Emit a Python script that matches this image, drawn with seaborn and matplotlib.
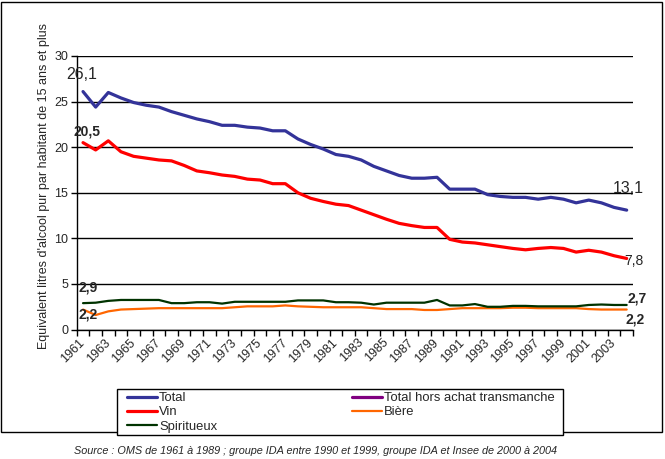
import numpy as np
import pandas as pd
import matplotlib
matplotlib.use("Agg")
import matplotlib.pyplot as plt
from matplotlib.patches import Rectangle
from matplotlib.lines import Line2D
import seaborn as sns

# consumption, litres of pure alcohol per inhabitant aged 15+
years = list(range(1961, 2005))
total = [26.1, 24.4, 26.0, 25.4, 24.9, 24.6, 24.4, 23.9, 23.5, 23.1, 22.8, 22.4,
         22.4, 22.2, 22.1, 21.8, 21.8, 20.9, 20.3, 19.8, 19.2, 19.0, 18.6, 17.9,
         17.4, 16.9, 16.6, 16.6, 16.7, 15.4, 15.4, 15.4, 14.8, 14.6, 14.5, 14.5,
         14.3, 14.5, 14.3, 13.9, 14.2, 13.9, 13.4, 13.1]
vin = [20.5, 19.7, 20.7, 19.5, 19.0, 18.8, 18.6, 18.5, 18.0, 17.4, 17.2, 16.95,
       16.8, 16.5, 16.4, 16.0, 16.0, 15.0, 14.4, 14.05, 13.75, 13.6, 13.1, 12.6,
       12.1, 11.65, 11.4, 11.2, 11.2, 9.9, 9.6, 9.5, 9.3, 9.1, 8.9, 8.75,
       8.9, 9.0, 8.9, 8.5, 8.7, 8.5, 8.1, 7.8]
biere = [2.2, 1.6, 2.0, 2.2, 2.25, 2.3, 2.35, 2.35, 2.35, 2.35, 2.35, 2.35,
         2.45, 2.55, 2.55, 2.55, 2.65, 2.55, 2.5, 2.45, 2.45, 2.45, 2.45, 2.35,
         2.25, 2.25, 2.25, 2.15, 2.15, 2.25, 2.35, 2.35, 2.35, 2.35, 2.4, 2.4,
         2.35, 2.35, 2.35, 2.35, 2.25, 2.2, 2.2, 2.2]
spiritueux = [2.9, 2.95, 3.15, 3.25, 3.25, 3.25, 3.25, 2.9, 2.9, 3.0, 3.0, 2.85,
              3.05, 3.05, 3.05, 3.05, 3.05, 3.2, 3.2, 3.2, 3.0, 3.0, 2.95, 2.75,
              2.95, 2.95, 2.95, 2.95, 3.25, 2.65, 2.65, 2.8, 2.5, 2.5, 2.6, 2.6,
              2.55, 2.55, 2.55, 2.55, 2.7, 2.75, 2.7, 2.7]

series_names = ["Total", "Vin", "Bière", "Spiritueux"]
series_colors = {"Total": "#333399", "Vin": "#FF0000", "Bière": "#FF6600",
                 "Spiritueux": "#003300"}
series_lw = {"Total": 2.3, "Vin": 2.3, "Bière": 1.6, "Spiritueux": 1.6}
hors_label = "Total hors achat transmanche"
hors_color = "#800080"

y_label = "Equivalent litres d'alcool pur par habitant de 15 ans et plus"
source = ("Source : OMS de 1961 à 1989 ; groupe IDA entre 1990 et 1999, "
          "groupe IDA et Insee de 2000 à 2004")

sns.set_style("white")
plt.rcParams["font.family"] = ["Liberation Sans", "DejaVu Sans"]

idx = np.arange(len(years))
df = pd.DataFrame({"x": idx, "Total": total, "Vin": vin, "Bière": biere,
                   "Spiritueux": spiritueux})

fig = plt.figure(figsize=(6.65, 4.59), dpi=100)
ax = fig.add_axes([76.7 / 665, 1 - 329.6 / 459, (633 - 76.7) / 665, (329.6 - 56) / 459])

for name in series_names:
    sns.lineplot(data=df, x="x", y=name, ax=ax, color=series_colors[name],
                 lw=series_lw[name], legend=False)

ax.set_xlim(-0.5, len(years) - 0.5)
ax.set_ylim(0, 30)
ax.set_yticks(range(0, 31, 5))
ax.yaxis.grid(True, color="black", lw=1)
ax.set_axisbelow(True)
for s in ["top", "right"]:
    ax.spines[s].set_visible(False)
for s in ["left", "bottom"]:
    ax.spines[s].set_color("black")
    ax.spines[s].set_linewidth(1)

# tick marks between categories, labels every other year
ax.set_xticks(np.arange(-0.5, len(years), 1))
ax.set_xticklabels([])
ax.set_xticks(idx[::2], minor=True)
ax.set_xticklabels([str(y) for y in years[::2]], minor=True, rotation=45,
                   ha="right", va="center", rotation_mode="anchor", fontsize=9)
ax.tick_params(axis="x", which="major", direction="out", length=4, width=1,
               color="black", bottom=True)
ax.tick_params(axis="x", which="minor", length=0, pad=8)
ax.tick_params(axis="y", direction="out", length=4, width=1, color="black",
               left=True, labelsize=9, pad=2)
ax.set_xlabel("")
ax.set_ylabel(y_label, fontsize=9)
ax.yaxis.set_label_coords(-0.048, 0.525)

# data labels at both ends
def lab(series, i, dx, dy, size, weight):
    v = series[i]
    ax.annotate(f"{v:.1f}".replace(".", ","), (idx[i], v), xytext=(dx, dy),
                textcoords="offset points", ha="center", va="center",
                fontsize=size, fontweight=weight)

lab(total, 0, -1.2, 12.5, 11.5, "normal")
lab(vin, 0, 2.7, 7.9, 10, "bold")
lab(spiritueux, 0, 3.6, 11, 10, "bold")
lab(biere, 0, 3.4, -3.8, 10, "bold")
lab(total, -1, 0.9, 15.4, 11.5, "normal")
lab(vin, -1, 5, -2, 10, "normal")
lab(spiritueux, -1, 7.3, 5, 10, "bold")
lab(biere, -1, 5.8, -7, 10, "bold")

# chart border
fig.patches.append(Rectangle((1 / 665, 1 - 432 / 459), 661 / 665, 430 / 459,
                             transform=fig.transFigure, fill=False,
                             edgecolor="black", lw=1))

# legend (frame drawn separately)
handles = [Line2D([], [], color=series_colors["Total"], lw=2.3),
           Line2D([], [], color=series_colors["Vin"], lw=2.3),
           Line2D([], [], color=series_colors["Spiritueux"], lw=1.6),
           Line2D([], [], color=hors_color, lw=2.3),
           Line2D([], [], color=series_colors["Bière"], lw=1.6)]
labels = ["Total", "Vin", "Spiritueux", hors_label, "Bière"]
fig.patches.append(Rectangle((117 / 665, 1 - 435 / 459), 446 / 665, 46 / 459,
                             transform=fig.transFigure, facecolor="white",
                             edgecolor="black", lw=1))
leg = fig.legend(handles, labels, ncol=2, loc="upper left",
                 bbox_to_anchor=(127 / 665, 1 - 392 / 459),
                 fontsize=9.4, frameon=False, borderaxespad=0, borderpad=0,
                 handlelength=2.3, handletextpad=0.15, labelspacing=0.16,
                 columnspacing=10.3)

fig.text(316 / 665, 1 - 451 / 459, source, ha="center", va="center",
         fontsize=7.8, style="italic")

fig.savefig("out.png", dpi=100)
